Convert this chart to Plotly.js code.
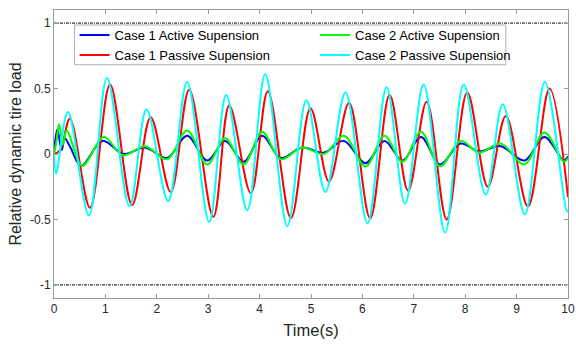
<!DOCTYPE html>
<html><head><meta charset="utf-8">
<script src="https://cdn.plot.ly/plotly-3.0.1.min.js"></script>
<style>html,body{margin:0;padding:0;background:#fff}#chart{width:576px;height:344px}</style>
</head><body><div id="chart"></div>
<script>
// Case 1 Active Supension (blue)
const tC1A = [0, 0.065, 0.15, 0.21, 0.32, 0.53, 0.94, 1.36, 1.77, 2.20, 2.59, 2.98, 3.33, 3.69, 4.05, 4.41, 4.83, 5.25, 5.64, 6.06, 6.43, 6.78, 7.14, 7.51, 7.91, 8.27, 8.69, 9.15, 9.54, 9.92, 10];
const vC1A = [0, 0.19, 0.03, 0.12, 0.05, -0.09, 0.10, 0.00, 0.05, -0.03, 0.14, -0.05, 0.10, -0.06, 0.14, -0.03, 0.05, 0.01, 0.10, -0.07, 0.10, -0.05, 0.13, -0.08, 0.08, 0.02, 0.06, -0.05, 0.13, -0.05, -0.02];
// Case 1 Passive Supension (red)
const tC1P = [0, 0.12, 0.31, 0.70, 1.09, 1.52, 1.88, 2.27, 2.63, 3.10, 3.41, 3.83, 4.16, 4.61, 4.99, 5.35, 5.74, 6.15, 6.53, 6.89, 7.25, 7.64, 8.04, 8.44, 8.79, 9.22, 9.64, 10.0];
const vC1P = [0, 0.03, 0.27, -0.41, 0.53, -0.39, 0.28, -0.29, 0.49, -0.48, 0.37, -0.30, 0.48, -0.49, 0.35, -0.21, 0.39, -0.49, 0.45, -0.28, 0.40, -0.50, 0.47, -0.25, 0.29, -0.40, 0.50, -0.33];
// Case 2 Active Supension (green)
const tC2A = [0, 0.05, 0.10, 0.17, 0.25, 0.55, 0.97, 1.34, 1.77, 2.20, 2.59, 2.98, 3.33, 3.69, 4.05, 4.41, 4.83, 5.25, 5.64, 6.06, 6.43, 6.78, 7.14, 7.51, 7.91, 8.27, 8.69, 9.15, 9.54, 9.92, 10];
const vC2A = [0, 0.10, 0.23, 0.07, 0.18, -0.09, 0.13, -0.01, 0.06, -0.04, 0.18, -0.08, 0.12, -0.08, 0.17, -0.04, 0.05, 0.00, 0.14, -0.095, 0.14, -0.06, 0.17, -0.095, 0.10, 0.01, 0.08, -0.08, 0.165, -0.06, -0.03];
// Case 2 Passive Supension (cyan)
const tC2P = [0, 0.04, 0.27, 0.68, 1.03, 1.47, 1.80, 2.22, 2.59, 3.02, 3.35, 3.76, 4.11, 4.54, 4.91, 5.28, 5.67, 6.10, 6.47, 6.83, 7.19, 7.61, 7.97, 8.40, 8.73, 9.16, 9.55, 9.98, 10];
const vC2P = [0, -0.15, 0.32, -0.47, 0.58, -0.40, 0.34, -0.36, 0.55, -0.52, 0.45, -0.43, 0.61, -0.55, 0.41, -0.29, 0.47, -0.53, 0.51, -0.38, 0.53, -0.60, 0.53, -0.31, 0.38, -0.46, 0.55, -0.44, -0.43];
// limit lines
const limX = [0, 10];
const limUpper = [1, 1];
const limLower = [-1, -1];
const xTicks = [0,1,2,3,4,5,6,7,8,9,10];
const yTicks = [-1, -0.5, 0, 0.5, 1];
const yTickText = ['-1', '-0.5', '0', '0.5', '1'];

const F = 'Liberation Sans, Arial, sans-serif';
const ln = (c) => ({color: c, width: 2, shape: 'spline', smoothing: 1});
const traces = [
  {x: tC1A, y: vC1A, name: 'Case 1 Active Supension', mode: 'lines', line: ln('#0000ff'), legend: 'legend'},
  {x: tC1P, y: vC1P, name: 'Case 1 Passive Supension', mode: 'lines', line: ln('#ff0000'), legend: 'legend'},
  {x: tC2A, y: vC2A, name: 'Case 2 Active Supension', mode: 'lines', line: ln('#00ff00'), legend: 'legend2'},
  {x: tC2P, y: vC2P, name: 'Case 2 Passive Supension', mode: 'lines', line: ln('#00ffff'), legend: 'legend2'},
  {x: limX, y: limUpper, mode: 'lines', line: {color: '#000', width: 1, dash: '3px,1px,1px,1px'}, showlegend: false, hoverinfo: 'skip'},
  {x: limX, y: limLower, mode: 'lines', line: {color: '#000', width: 1, dash: '3px,1px,1px,1px'}, showlegend: false, hoverinfo: 'skip'}
];
const axisCommon = {
  showline: true, linecolor: '#9a9a9a', linewidth: 1, mirror: 'ticks',
  ticks: 'inside', ticklen: 4, tickcolor: '#9a9a9a',
  showgrid: false, zeroline: false,
  tickfont: {family: F, size: 12, color: '#262626'}
};
const legCommon = {
  orientation: 'v', yanchor: 'top', xanchor: 'left',
  bgcolor: 'rgba(0,0,0,0)', borderwidth: 0,
  font: {family: F, size: 13, color: '#000'},
  tracegroupgap: 0, itemwidth: 30
};
const layout = {
  width: 576, height: 344,
  margin: {l: 54, r: 8, t: 10, b: 46},
  paper_bgcolor: '#fff', plot_bgcolor: '#fff',
  showlegend: true,
  legend: Object.assign({}, legCommon, {x: 0.04, y: 0.965}),
  legend2: Object.assign({}, legCommon, {x: 0.508, y: 0.965}),
  shapes: [{
    type: 'rect', xref: 'paper', yref: 'paper',
    x0: 0.04, x1: 0.879, y0: 0.81, y1: 0.948,
    line: {color: '#b0b0b0', width: 1}, fillcolor: '#fff', layer: 'above'
  }],
  xaxis: Object.assign({}, axisCommon, {
    range: [0, 10], tickvals: xTicks,
    title: {text: 'Time(s)', font: {family: F, size: 16.5, color: '#262626'}, standoff: 9}
  }),
  yaxis: Object.assign({}, axisCommon, {
    range: [-1.1, 1.1], tickvals: yTicks, ticktext: yTickText,
    title: {text: 'Relative dynamic tire load', font: {family: F, size: 16, color: '#262626'}, standoff: 4}
  })
};
Plotly.newPlot('chart', traces, layout, {staticPlot: true, displayModeBar: false});
</script></body></html>
